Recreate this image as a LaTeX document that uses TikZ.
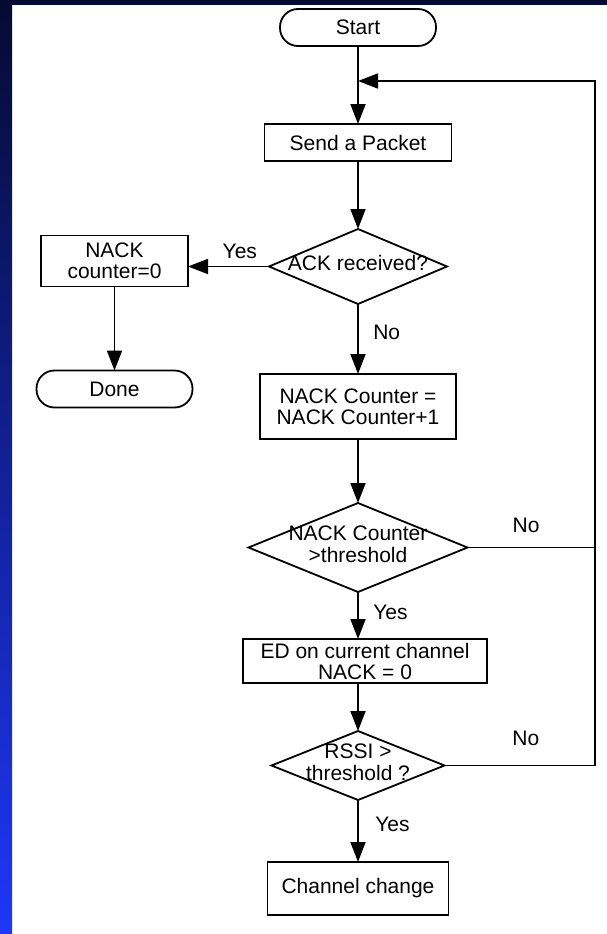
\documentclass[tikz,border=0pt]{standalone}
\definecolor{DeepNavy}{RGB}{5, 10, 50}
\definecolor{BrightBlue}{RGB}{30, 55, 250}
\usepackage{fontspec}
\setmainfont{Liberation Sans}
\usepackage{tikz}
\usetikzlibrary{arrows.meta, positioning, shapes.geometric}
\newcommand{\intext}[1]{\makebox[0pt]{\begin{tabular}{@{}c@{}}#1\end{tabular}}}

\begin{document}
\begin{tikzpicture}[every node/.style={font=\fontsize{21}{21}\selectfont, outer sep=0pt},
    line width=1.8pt, >={Triangle[length=20pt, width=15pt]},
    proc/.style={draw, rectangle, inner sep=0pt, align=center},
    term/.style={draw, rectangle, rounded corners=18pt, inner sep=0pt},
    test/.style={draw, diamond, inner sep=0pt, aspect=2.4}]
    % frame of the slide
    \useasboundingbox (0,0) rectangle (607pt,-934pt);
    \shade[top color=DeepNavy, bottom color=BrightBlue] (0,0) rectangle (12pt,-934pt);
    \fill[DeepNavy] (0,0) rectangle (607pt,-5pt);

    \node[term, minimum width=156pt, minimum height=37pt] (start) at (358pt,-27.5pt) {Start};
    \node[proc, minimum width=187pt, minimum height=37pt, below=78pt of start] (send) {Send a Packet};
    \node[test, minimum width=178pt, minimum height=75pt, below=68pt of send] (ack) {\intext{ACK received?}};
    \node[proc, minimum width=147pt, minimum height=51pt, left=81pt of ack, yshift=5.5pt] (nackzero) {NACK\\counter=0};
    \node[term, minimum width=156pt, minimum height=37pt, below=84pt of nackzero] (done) {Done};
    \node[proc, minimum width=196pt, minimum height=65pt, below=70pt of ack] (inc) {NACK Counter =\\NACK Counter+1};
    \node[test, minimum width=219pt, minimum height=89pt, below=64pt of inc] (thr) {\intext{NACK Counter\\>threshold}};
    \node[proc, minimum width=244pt, minimum height=44pt, below=47pt of thr, xshift=7pt] (ed) {ED on current channel\\NACK = 0};
    \node[test, minimum width=173pt, minimum height=69pt, below=48pt of ed, xshift=-7pt] (rssi) {\intext{RSSI >\\threshold ?}};
    \node[proc, minimum width=181pt, minimum height=53pt, below=62pt of rssi] (chg) {Channel change};

    \coordinate[below=35pt of start] (join);
    \coordinate[right=237pt of join] (loop);

    \draw[->] (start) -- (send);
    \draw[->] (send) -- (ack);
    \draw[->] (ack.west) -- (ack.west -| nackzero.east) node[pos=0.36, above=4pt] (yesack) {Yes};
    \draw[->] (nackzero) -- (done);
    \draw[->] (ack) -- (inc) node[pos=0.4, right=12pt] (noack) {No};
    \draw[->] (inc) -- (thr);
    \draw[->] (thr.south) -- (thr.south |- ed.north) node[pos=0.43, right=12pt] (yesthr) {Yes};
    \draw (thr.east) -- (thr.east -| loop) node[pos=0.46, above=11pt] (nothr) {No};
    \draw[->] (ed.south -| rssi.north) -- (rssi.north);
    \draw[->] (rssi) -- (chg) node[pos=0.39, right=14pt] (yesrssi) {Yes};
    \draw[->] (rssi.east) -- (rssi.east -| loop) node[pos=0.54, above=16pt] (norssi) {No}
        -- (loop) -- (join);
\end{tikzpicture}
\end{document}
